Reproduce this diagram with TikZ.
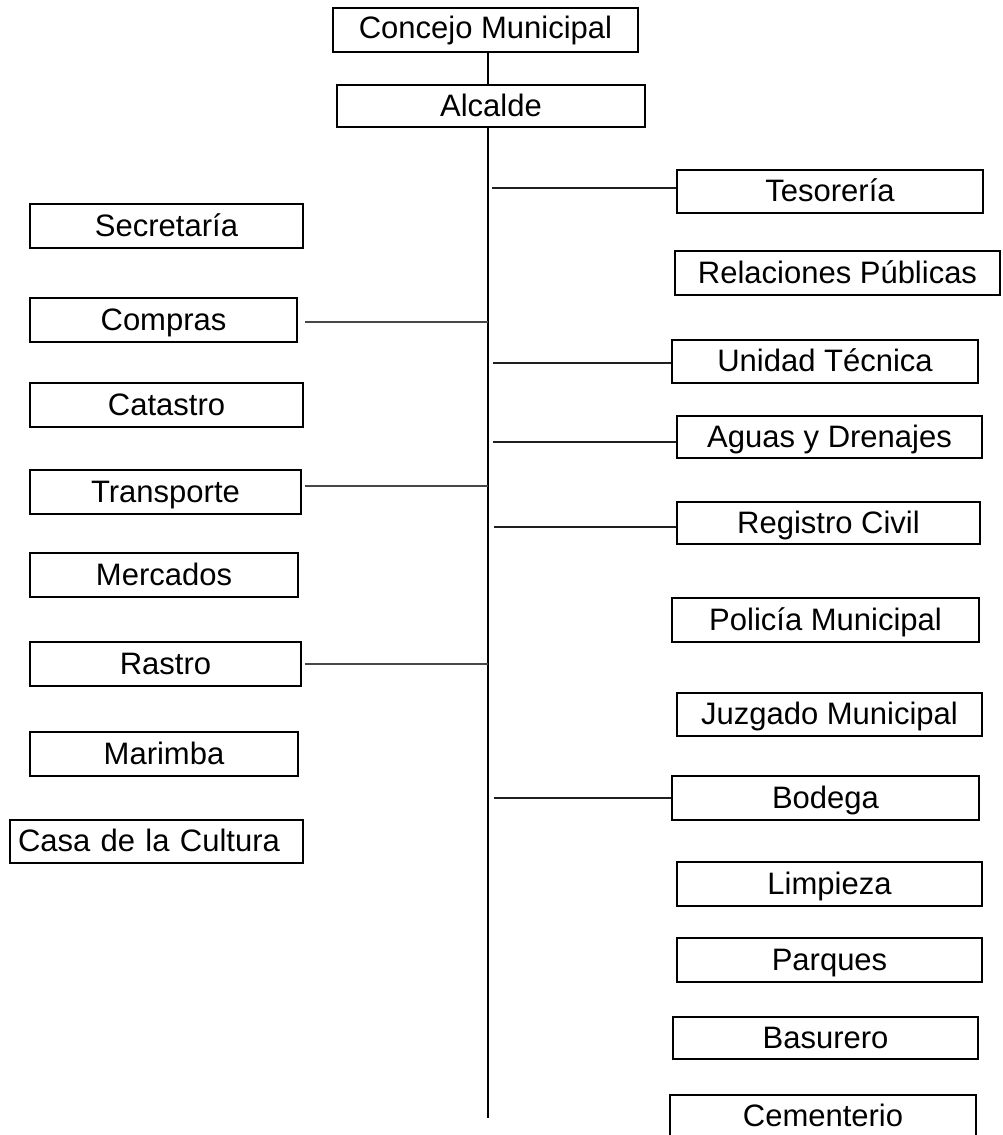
\documentclass[tikz,border=0pt]{standalone}
\usepackage{fontspec}
\setmainfont{Liberation Sans}
\begin{document}
\begin{tikzpicture}[x=1pt,y=-1pt,
  box/.style={draw=black, line width=1.6pt, fill=white, inner sep=0pt,
    minimum height=43pt, text height=21pt, text depth=1pt,
    font=\fontsize{31}{37}\selectfont},
  lconn/.style={draw=black!72, line width=1.2pt},
  rconn/.style={draw=black!88, line width=1.2pt},
  trunk/.style={draw=black, line width=2pt}]
\clip (0,0) rectangle (1003,1135);
\fill[white] (0,0) rectangle (1003,1135);

% top
\node[box, minimum width=305pt, minimum height=44pt, text depth=4pt] (concejo) at (485.5,30) {Concejo Municipal};
\node[box, minimum width=308pt, minimum height=42pt] (alcalde) at (491,106) {Alcalde};

% left column
\node[box, minimum width=273pt, minimum height=44pt] (secretaria) at (166.5,226) {Secretaría};
\node[box, minimum width=267pt, minimum height=44pt] (compras) at (163.5,320) {Compras};
\node[box, minimum width=273pt, minimum height=44pt] (catastro) at (166.5,405) {Catastro};
\node[box, minimum width=271pt, minimum height=44pt] (transporte) at (165.5,492) {Transporte};
\node[box, minimum width=268pt, minimum height=44pt] (mercados) at (164,575) {Mercados};
\node[box, minimum width=271pt, minimum height=44pt] (rastro) at (165.5,664) {Rastro};
\node[box, minimum width=268pt, minimum height=44pt] (marimba) at (164,754) {Marimba};
\node[box, minimum width=293pt, text width=277pt, inner xsep=8pt, align=left] (casa) at (156.5,841.5) {Casa de la Cultura};

% right column
\node[box, minimum width=306pt] (tesoreria) at (830,191.5) {Tesorería};
\node[box, minimum width=325pt, minimum height=44pt] (relaciones) at (837.5,273) {Relaciones Públicas};
\node[box, minimum width=306pt] (unidad) at (825,361.5) {Unidad Técnica};
\node[box, minimum width=305pt, minimum height=42pt] (aguas) at (829.5,437) {Aguas y Drenajes};
\node[box, minimum width=303pt, minimum height=42pt] (registro) at (828.5,523) {Registro Civil};
\node[box, minimum width=307pt, minimum height=44pt] (policia) at (825.5,620) {Policía Municipal};
\node[box, minimum width=305pt] (juzgado) at (829.5,714.5) {Juzgado Municipal};
\node[box, minimum width=307pt, minimum height=44pt] (bodega) at (825.5,798) {Bodega};
\node[box, minimum width=305pt, minimum height=44pt] (limpieza) at (829.5,884) {Limpieza};
\node[box, minimum width=305pt, minimum height=44pt] (parques) at (829.5,960) {Parques};
\node[box, minimum width=305pt, minimum height=42pt] (basurero) at (825.5,1038) {Basurero};
\node[box, minimum width=306pt] (cementerio) at (823,1116.5) {Cementerio};

% trunk
\coordinate (tend) at (488,1118);
\draw[trunk] (concejo.south -| 488,0) -- (alcalde.north -| 488,0);
\draw[trunk] (alcalde.south -| 488,0) -- (tend);

% left connectors
\coordinate (lc1) at (488,322);
\coordinate (lc2) at (488,486);
\coordinate (lc3) at (488,664);
\draw[lconn] ([xshift=7pt]compras.east |- lc1) -- (lc1);
\draw[lconn] ([xshift=3pt]transporte.east |- lc2) -- (lc2);
\draw[lconn] ([xshift=3pt]rastro.east |- lc3) -- (lc3);

% right connectors
\coordinate (rc1) at (492,188);
\coordinate (rc2) at (493,363);
\coordinate (rc3) at (493,442);
\coordinate (rc4) at (494,527);
\coordinate (rc5) at (494,798);
\draw[rconn, line width=1.6pt] (rc1) -- (rc1 -| tesoreria.west);
\draw[rconn] (rc2) -- (rc2 -| unidad.west);
\draw[rconn] (rc3) -- (rc3 -| aguas.west);
\draw[rconn] (rc4) -- (rc4 -| registro.west);
\draw[rconn] (rc5) -- (rc5 -| bodega.west);
\end{tikzpicture}
\end{document}
